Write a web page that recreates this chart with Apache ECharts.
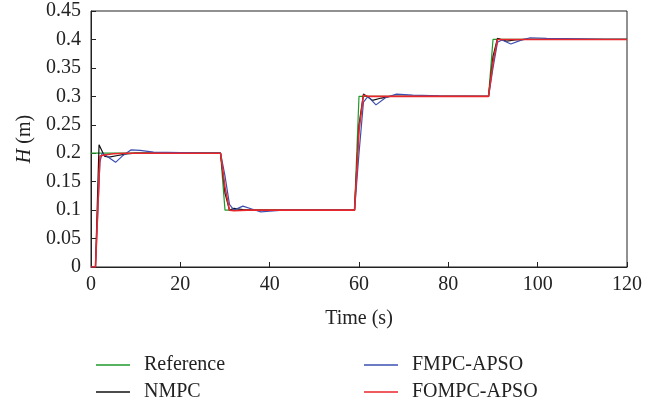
<!DOCTYPE html>
<html>
<head>
<meta charset="utf-8">
<script src="https://cdn.jsdelivr.net/npm/echarts@6/dist/echarts.min.js"></script>
<style>html,body{margin:0;padding:0;background:#fff;}#c{width:670px;height:404px;}</style>
</head>
<body>
<div id="c"></div>
<script>
const xTicks = [0, 20, 40, 60, 80, 100, 120];
const yTicks = [0, 0.05, 0.1, 0.15, 0.2, 0.25, 0.3, 0.35, 0.4, 0.45];
const seriesNames = ['Reference', 'NMPC', 'FMPC-APSO', 'FOMPC-APSO'];

const reference = [[0,0.2],[29,0.2],[30,0.1],[59,0.1],[60,0.3],[89,0.3],[90,0.4],[120,0.4]];

const nmpc = [[0,0],[1,0],[1.8,0.215],[3,0.195],[4,0.193],[6,0.196],[8,0.199],[10,0.2],[29,0.2],[30,0.13],[31,0.1],[32,0.103],[34,0.101],[36,0.1],[59,0.1],[60,0.25],[61,0.304],[63,0.293],[65,0.297],[67,0.3],[89,0.3],[90,0.37],[91,0.402],[93,0.397],[95,0.399],[97,0.4],[120,0.4]];

const fmpc = [[0,0],[1,0],[2,0.185],[2.5,0.2],[3.5,0.195],[5.5,0.184],[7,0.195],[9,0.206],[11,0.205],[14,0.202],[20,0.201],[25,0.2],[29,0.2],[30,0.16],[31,0.11],[32,0.1],[34,0.107],[36,0.102],[38,0.097],[40,0.098],[43,0.1],[59,0.1],[60,0.2],[61,0.29],[62,0.3],[63.8,0.285],[66,0.298],[68.4,0.304],[72,0.302],[78,0.301],[89,0.3],[90,0.35],[91,0.395],[92,0.399],[94,0.392],[96,0.398],[98.3,0.403],[102,0.402],[110,0.401],[115,0.4],[120,0.4]];

const fompc = [[0,0],[1,0],[2,0.195],[3,0.197],[5,0.199],[8,0.2],[29,0.2],[30,0.14],[31,0.1],[32,0.099],[35,0.1],[59,0.1],[60,0.24],[61,0.302],[62,0.3],[89,0.3],[90,0.36],[91,0.4],[120,0.4]];

const FONT = '"Liberation Serif","DejaVu Serif",serif';
const colors = ['#1f9a2a', '#111111', '#3a4fb0', '#e8262b'];
const chart = echarts.init(document.getElementById('c'), null, {renderer:'canvas'});
const mk = (i, data, w) => ({
  name: seriesNames[i], type:'line', data, symbol:'none', showSymbol:false, z: 2 + i,
  lineStyle:{color: colors[i], width:w}, itemStyle:{color: colors[i]}, animation:false
});
const legendPos = [[91, 350], [91, 377], [359, 350], [359, 377]];
const legends = seriesNames.map((n, i) => ({
  data:[n], left: legendPos[i][0], top: legendPos[i][1], icon:'rect', itemWidth:34, itemHeight:1.5,
  itemStyle:{color: colors[i]}, selectedMode:false,
  textStyle:{fontFamily:FONT, fontSize:20, color:'#222', padding:[0,0,0,9]}
}));
chart.setOption({
  animation:false,
  backgroundColor:'#fff',
  textStyle:{fontFamily:FONT},
  grid:{left:91, right:43, top:11, bottom:137, show:true, borderColor:'#222', borderWidth:1, backgroundColor:'transparent'},
  xAxis:{
    type:'value', min:xTicks[0], max:xTicks[xTicks.length-1], interval:20,
    name:'Time (s)', nameLocation:'middle', nameGap:42,
    nameTextStyle:{fontFamily:FONT, fontSize:20, color:'#222'},
    axisLine:{show:true, lineStyle:{color:'#222'}},
    axisTick:{show:true, inside:true, length:5, lineStyle:{color:'#222'}},
    axisLabel:{fontFamily:FONT, fontSize:20, color:'#222', margin:8},
    splitLine:{show:false}
  },
  yAxis:{
    type:'value', min:yTicks[0], max:yTicks[yTicks.length-1], interval:0.05,
    name:'{i|H} (m)', nameLocation:'middle', nameGap:56, nameRotate:90,
    nameTextStyle:{fontFamily:FONT, fontSize:20, color:'#222', rich:{i:{fontStyle:'italic', fontFamily:FONT, fontSize:20, color:'#222'}}},
    axisLine:{show:true, lineStyle:{color:'#222'}},
    axisTick:{show:true, inside:true, length:5, lineStyle:{color:'#222'}},
    axisLabel:{fontFamily:FONT, fontSize:20, color:'#222', margin:10},
    splitLine:{show:false}
  },
  legend: legends,
  series:[
    mk(0, reference, 1.2),
    mk(1, nmpc, 1.2),
    mk(2, fmpc, 1.2),
    mk(3, fompc, 1.6)
  ]
});
</script>
</body>
</html>
